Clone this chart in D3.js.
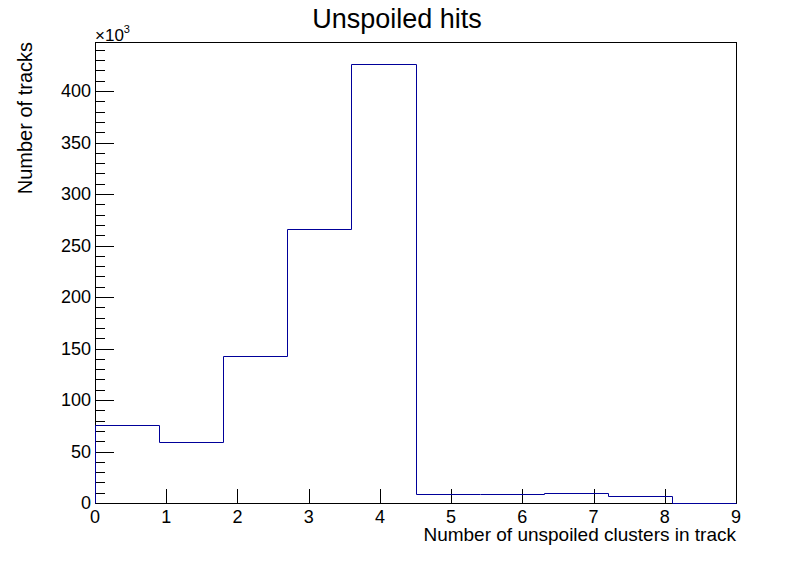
<html>
<head>
    <script src="https://d3js.org/d3.v7.min.js"></script>
    <style>
        body { margin: 0; background: #fff; }
        text { font-family: "Liberation Sans", Arial, sans-serif; }
    </style>
</head>
<body>
    <svg width=796 height=572></svg>
<script>

    // histogram contents (in units of 10^3 tracks)
    const binEdges = [0, 0.9, 1.8, 2.7, 3.6, 4.5, 5.4, 6.3, 7.2, 8.1, 9];
    const counts = [75.6, 58.9, 142.5, 266.5, 425.9, 8.4, 8.4, 9.4, 6.5, 0];
    const xTicks = [0, 1, 2, 3, 4, 5, 6, 7, 8, 9];
    const yTicks = [0, 50, 100, 150, 200, 250, 300, 350, 400];

    const svg = d3.select("svg");

    // frame edges (top is a window global, so use other names)
    let padL = 95, padR = 736, padT = 42, padB = 503;

    let x = d3.scaleLinear().domain([0, 9]).range([padL, padR]);
    let y = d3.scaleLinear().domain([0, 447.6]).range([padB, padT]);

    // frame
    svg.append("rect")
        .attr("x", padL + 0.5).attr("y", padT + 0.5)
        .attr("width", padR - padL).attr("height", padB - padT)
        .attr("fill", "none").attr("stroke", "#000").attr("stroke-width", 1);

    // y ticks: major every 50, minor every 10
    let minorY = d3.range(0, 447, 10).filter(v => v % 50 != 0);
    svg.append("g").selectAll("line")
        .data(minorY)
        .join("line")
            .attr("x1", padL).attr("x2", padL + 10)
            .attr("y1", d => Math.round(y(d)) + 0.5).attr("y2", d => Math.round(y(d)) + 0.5)
            .attr("stroke", "#000");
    svg.append("g").selectAll("line")
        .data(yTicks)
        .join("line")
            .attr("x1", padL).attr("x2", padL + 19)
            .attr("y1", d => Math.round(y(d)) + 0.5).attr("y2", d => Math.round(y(d)) + 0.5)
            .attr("stroke", "#000");
    svg.append("g").selectAll("text")
        .data(yTicks)
        .join("text")
            .attr("x", padL - 4)
            .attr("y", d => y(d) + 6)
            .attr("text-anchor", "end")
            .style("font-size", "18px")
            .text(d => d);

    // x ticks
    svg.append("g").selectAll("line")
        .data(xTicks)
        .join("line")
            .attr("x1", d => Math.round(x(d)) + 0.5).attr("x2", d => Math.round(x(d)) + 0.5)
            .attr("y1", padB).attr("y2", padB - 14)
            .attr("stroke", "#000");
    svg.append("g").selectAll("text")
        .data(xTicks)
        .join("text")
            .attr("x", d => x(d))
            .attr("y", padB + 20)
            .attr("text-anchor", "middle")
            .style("font-size", "18px")
            .text(d => d);

    // histogram outline as steps
    let pts = [[binEdges[0], 0]];
    counts.forEach((c, i) => {
        pts.push([binEdges[i], c]);
        pts.push([binEdges[i + 1], c]);
    });
    pts.push([binEdges[binEdges.length - 1], 0]);

    svg.append("path")
        .datum(pts)
        .attr("d", d3.line().x(d => Math.round(x(d[0])) + 0.5).y(d => Math.round(y(d[1])) + 0.5))
        .attr("fill", "none")
        .attr("stroke", "#000099")
        .attr("stroke-width", 1);

    // titles
    svg.append("text")
        .attr("x", 397).attr("y", 28)
        .attr("text-anchor", "middle")
        .style("font-size", "27px")
        .text("Unspoiled hits");

    svg.append("text")
        .attr("x", 736).attr("y", 541)
        .attr("text-anchor", "end")
        .style("font-size", "19px")
        .text("Number of unspoiled clusters in track");

    svg.append("text")
        .attr("transform", "translate(32,42) rotate(-90)")
        .attr("text-anchor", "end")
        .style("font-size", "20px")
        .text("Number of tracks");

    let mult = svg.append("text")
        .attr("x", 95).attr("y", 41)
        .style("font-size", "17px")
        .text("\u00d710");
    mult.append("tspan")
        .attr("dy", -8)
        .style("font-size", "11px")
        .text("3");

</script>
</body>
</html>
